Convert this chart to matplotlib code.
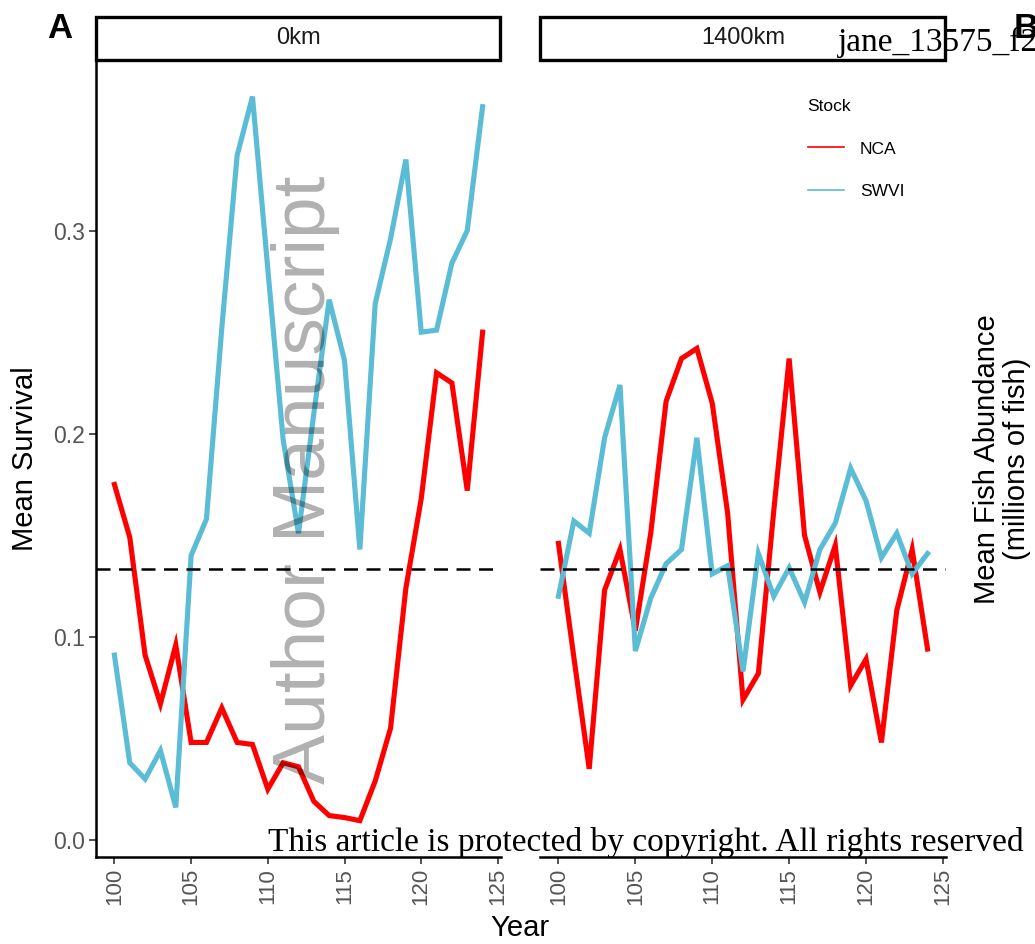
import numpy as np
import matplotlib.pyplot as plt
from matplotlib.lines import Line2D
from matplotlib.patches import Rectangle

# simulation years
years = np.arange(100, 125)

# mean survival per stock
nca_0km = [0.175, 0.149, 0.091, 0.067, 0.096, 0.048, 0.048, 0.065, 0.048, 0.047,
           0.025, 0.038, 0.036, 0.019, 0.012, 0.011, 0.0095, 0.029, 0.055, 0.124,
           0.168, 0.230, 0.225, 0.172, 0.250]
swvi_0km = [0.091, 0.038, 0.030, 0.044, 0.016, 0.140, 0.158, 0.252, 0.337, 0.366,
            0.281, 0.197, 0.151, 0.210, 0.266, 0.236, 0.143, 0.264, 0.296, 0.335,
            0.250, 0.251, 0.284, 0.300, 0.361]
nca_1400km = [0.146, 0.090, 0.035, 0.123, 0.143, 0.103, 0.151, 0.216, 0.237, 0.242,
              0.215, 0.161, 0.069, 0.082, 0.162, 0.237, 0.150, 0.122, 0.145, 0.076,
              0.089, 0.048, 0.113, 0.143, 0.094]
swvi_1400km = [0.120, 0.157, 0.151, 0.198, 0.224, 0.093, 0.119, 0.136, 0.143, 0.198,
               0.131, 0.135, 0.083, 0.141, 0.120, 0.134, 0.117, 0.143, 0.156, 0.183,
               0.167, 0.139, 0.151, 0.131, 0.141]
threshold = 0.1335

panels = ['0km', '1400km']
stocks = ['NCA', 'SWVI']
colors = {'NCA': '#FF0000', 'SWVI': '#5BBCD6'}
series = {'0km': {'NCA': nca_0km, 'SWVI': swvi_0km},
          '1400km': {'NCA': nca_1400km, 'SWVI': swvi_1400km}}

plt.rcParams['font.family'] = ['Liberation Sans', 'DejaVu Sans']

W, H = 1035, 944
fig = plt.figure(figsize=(W / 100, H / 100), dpi=100)

# axes boxes in pixels (left, right), shared top/bottom
boxes = [(96, 501), (540, 946)]
top, bottom = 60, 857

axes = []
for i, panel in enumerate(panels):
    x0, x1 = boxes[i]
    ax = fig.add_axes([x0 / W, 1 - bottom / H, (x1 - x0) / W, (bottom - top) / H])
    for stock in stocks:
        ax.plot(years, series[panel][stock], color=colors[stock], lw=3.7,
                solid_joinstyle='miter', zorder=2)
    ax.axhline(threshold, color='black', lw=1.8, ls=(0, (5.6, 3.4)), zorder=3)

    ax.set_xlim(98.8, 125.2)
    ax.set_ylim(-0.0084, 0.384)
    ax.set_xticks([100, 105, 110, 115, 120, 125])
    ax.tick_params(axis='x', labelrotation=90, labelsize=16, colors='#333333',
                   labelcolor='#555555', length=5, width=1.2, pad=3)
    for s in ['top', 'right']:
        ax.spines[s].set_visible(False)
    ax.spines['bottom'].set_linewidth(1.8)
    ax.spines['left'].set_linewidth(1.8)

    if i == 0:
        ax.set_yticks([0.0, 0.1, 0.2, 0.3])
        ax.set_yticklabels(['0.0', '0.1', '0.2', '0.3'])
        ax.tick_params(axis='y', labelsize=16.5, colors='#333333',
                       labelcolor='#555555', length=5, width=1.2, pad=3)
        ax.set_ylabel('Mean Survival', fontsize=21, labelpad=10)
    else:
        ax.spines['left'].set_visible(False)
        ax.set_yticks([])

    # facet strip: white fill below, border drawn above the overlaid file name
    rect = ((x0 / W, 1 - top / H), (x1 - 1 - x0) / W, 43 / H)
    fig.patches.append(Rectangle(*rect, transform=fig.transFigure,
                                 facecolor='white', edgecolor='none', zorder=1))
    fig.patches.append(Rectangle(*rect, transform=fig.transFigure,
                                 facecolor='none', edgecolor='black', lw=2.4,
                                 zorder=11))
    fig.text((x0 + x1) / 2 / W, 1 - 38 / H, panel, ha='center', va='center',
             fontsize=17, color='#1A1A1A')
    axes.append(ax)

fig.text(520 / W, 1 - 928 / H, 'Year', ha='center', va='center', fontsize=21)

# legend
handles = [Line2D([], [], color=colors[s], lw=1.2) for s in stocks]
leg = fig.legend(handles, stocks, title='Stock', loc='upper left',
                 bbox_to_anchor=(792 / W, 1 - 83 / H), frameon=False,
                 fontsize=12.5, title_fontsize=12.5, handlelength=2.1,
                 handletextpad=0.9, labelspacing=1.6, alignment='left')

# panel letters and cut-off panel B label
fig.text(47 / W, 1 - 28 / H, 'A', fontsize=25, fontweight='bold', va='center')
fig.text(1014 / W, 1 - 28 / H, 'B', fontsize=25, fontweight='bold', va='center')
fig.text(1002 / W, 1 - 459 / H, 'Mean Fish Abundance\n(millions of fish)',
         rotation=90, ha='center', va='center', fontsize=21, linespacing=1.1)

# watermarks
fig.text(305 / W, 1 - 480 / H, 'Author Manuscript', rotation=90, ha='center',
         va='center', fontsize=54, color='black', alpha=0.31, zorder=10)
fig.text(268 / W, 1 - 843 / H,
         'This article is protected by copyright. All rights reserved',
         ha='left', va='center', fontsize=24, family='Liberation Serif', zorder=10)
fig.text(838 / W, 1 - 42 / H, 'jane_13575_f2.tif', ha='left', va='center',
         fontsize=24, family='Liberation Serif', zorder=10)

fig.savefig('out.png', dpi=100)
